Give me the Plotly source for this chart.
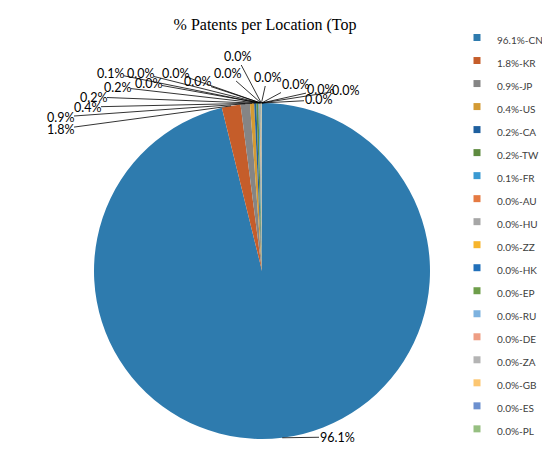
import math
import plotly.graph_objects as go

countries = ["CN", "KR", "JP", "US", "CA", "TW", "FR", "AU", "HU", "ZZ",
             "HK", "EP", "RU", "DE", "ZA", "GB", "ES", "PL"]
percents = [96.1, 1.8, 0.9, 0.4, 0.2, 0.2, 0.1, 0.04, 0.04, 0.03,
            0.03, 0.02, 0.02, 0.02, 0.01, 0.01, 0.01, 0.01]
colors = ["#2E7BAE", "#C55D2A", "#858585", "#D39A34", "#1E5F9E", "#5E8B40",
          "#3A9AD2", "#E57A42", "#A6A6A6", "#F7B52C", "#2170BA", "#6E9E4A",
          "#7DB2DF", "#EE9E84", "#B4B4B4", "#FCC671", "#6C90CF", "#96BF81"]

# layout (window pixels); the page body adds an 8px offset
OFF = 8
W, H = 550 - OFF, 462 - OFF
CX, CY, R = 262 - OFF, 271 - OFF, 168
label_pos = [(337, 437), (60, 129), (60, 117), (87, 107), (93, 97), (117, 87),
             (110, 73), (148, 83), (140, 73), (175, 73), (197, 82), (227, 73),
             (237, 57), (267, 78), (295, 85), (320, 90), (345, 90), (318, 100)]

FONT = "Lato, Liberation Sans, sans-serif"
legend_labels = [f'<span style="font-size:10px">{p:.1f}%-{c}</span>'
                 for p, c in zip(percents, countries)]
texts = [f"{p:.1f}%" for p in percents]

fig = go.Figure()
fig.add_trace(go.Pie(
    labels=countries,
    values=percents,
    textinfo="none",
    sort=False,
    direction="clockwise",
    rotation=0,
    marker=dict(colors=colors, line=dict(width=0)),
    domain=dict(x=[(CX - R) / W, (CX + R) / W], y=[1 - (CY + R) / H, 1 - (CY - R) / H]),
    hovertext=[f"{p:.1f}%-{c}" for p, c in zip(percents, countries)],
    hoverinfo="text",
    showlegend=False,
))

# legend entries (small square swatches like the original)
for name, col in zip(legend_labels, colors):
    fig.add_trace(go.Scatter(
        x=[None], y=[None], mode="markers", name=name,
        marker=dict(symbol="square", size=7, color=col),
        showlegend=True, hoverinfo="skip",
    ))

# data labels with leader lines, anchored at each slice's outer edge (mid-angle)
total = sum(percents)
cum = 0.0
annotations = []
for v, t, (lx, ly) in zip(percents, texts, label_pos):
    theta = 2 * math.pi * (cum + v / 2) / total
    cum += v
    px = CX + R * math.sin(theta)
    py = CY - R * math.cos(theta)
    annotations.append(dict(
        x=px / W, y=1 - py / H, xref="paper", yref="paper",
        ax=(lx - OFF) - px, ay=(ly - OFF) - py,
        text=t, showarrow=True, arrowhead=0, arrowwidth=0.8,
        arrowcolor="#000000", standoff=0, borderpad=0,
        font=dict(family=FONT, size=12.5, color="#000000"),
    ))

fig.update_layout(
    width=W,
    height=H,
    margin=dict(l=0, r=0, t=0, b=0),
    paper_bgcolor="white",
    plot_bgcolor="white",
    xaxis=dict(visible=False),
    yaxis=dict(visible=False),
    title=dict(
        text="% Patents per Location (Top",
        font=dict(family="Liberation Serif, Times New Roman, serif", size=16, color="#000000"),
        x=(265 - OFF) / W, xanchor="center",
        y=1 - (24 - OFF) / H, yanchor="middle",
    ),
    legend=dict(
        x=(457 - OFF) / W, xanchor="left",
        y=1 - (21 - OFF) / H, yanchor="top",
        font=dict(family=FONT, size=15.4, color="#404040"),
        bgcolor="rgba(0,0,0,0)",
        traceorder="normal",
    ),
    showlegend=True,
    annotations=annotations,
)

fig.write_html("out.html")
